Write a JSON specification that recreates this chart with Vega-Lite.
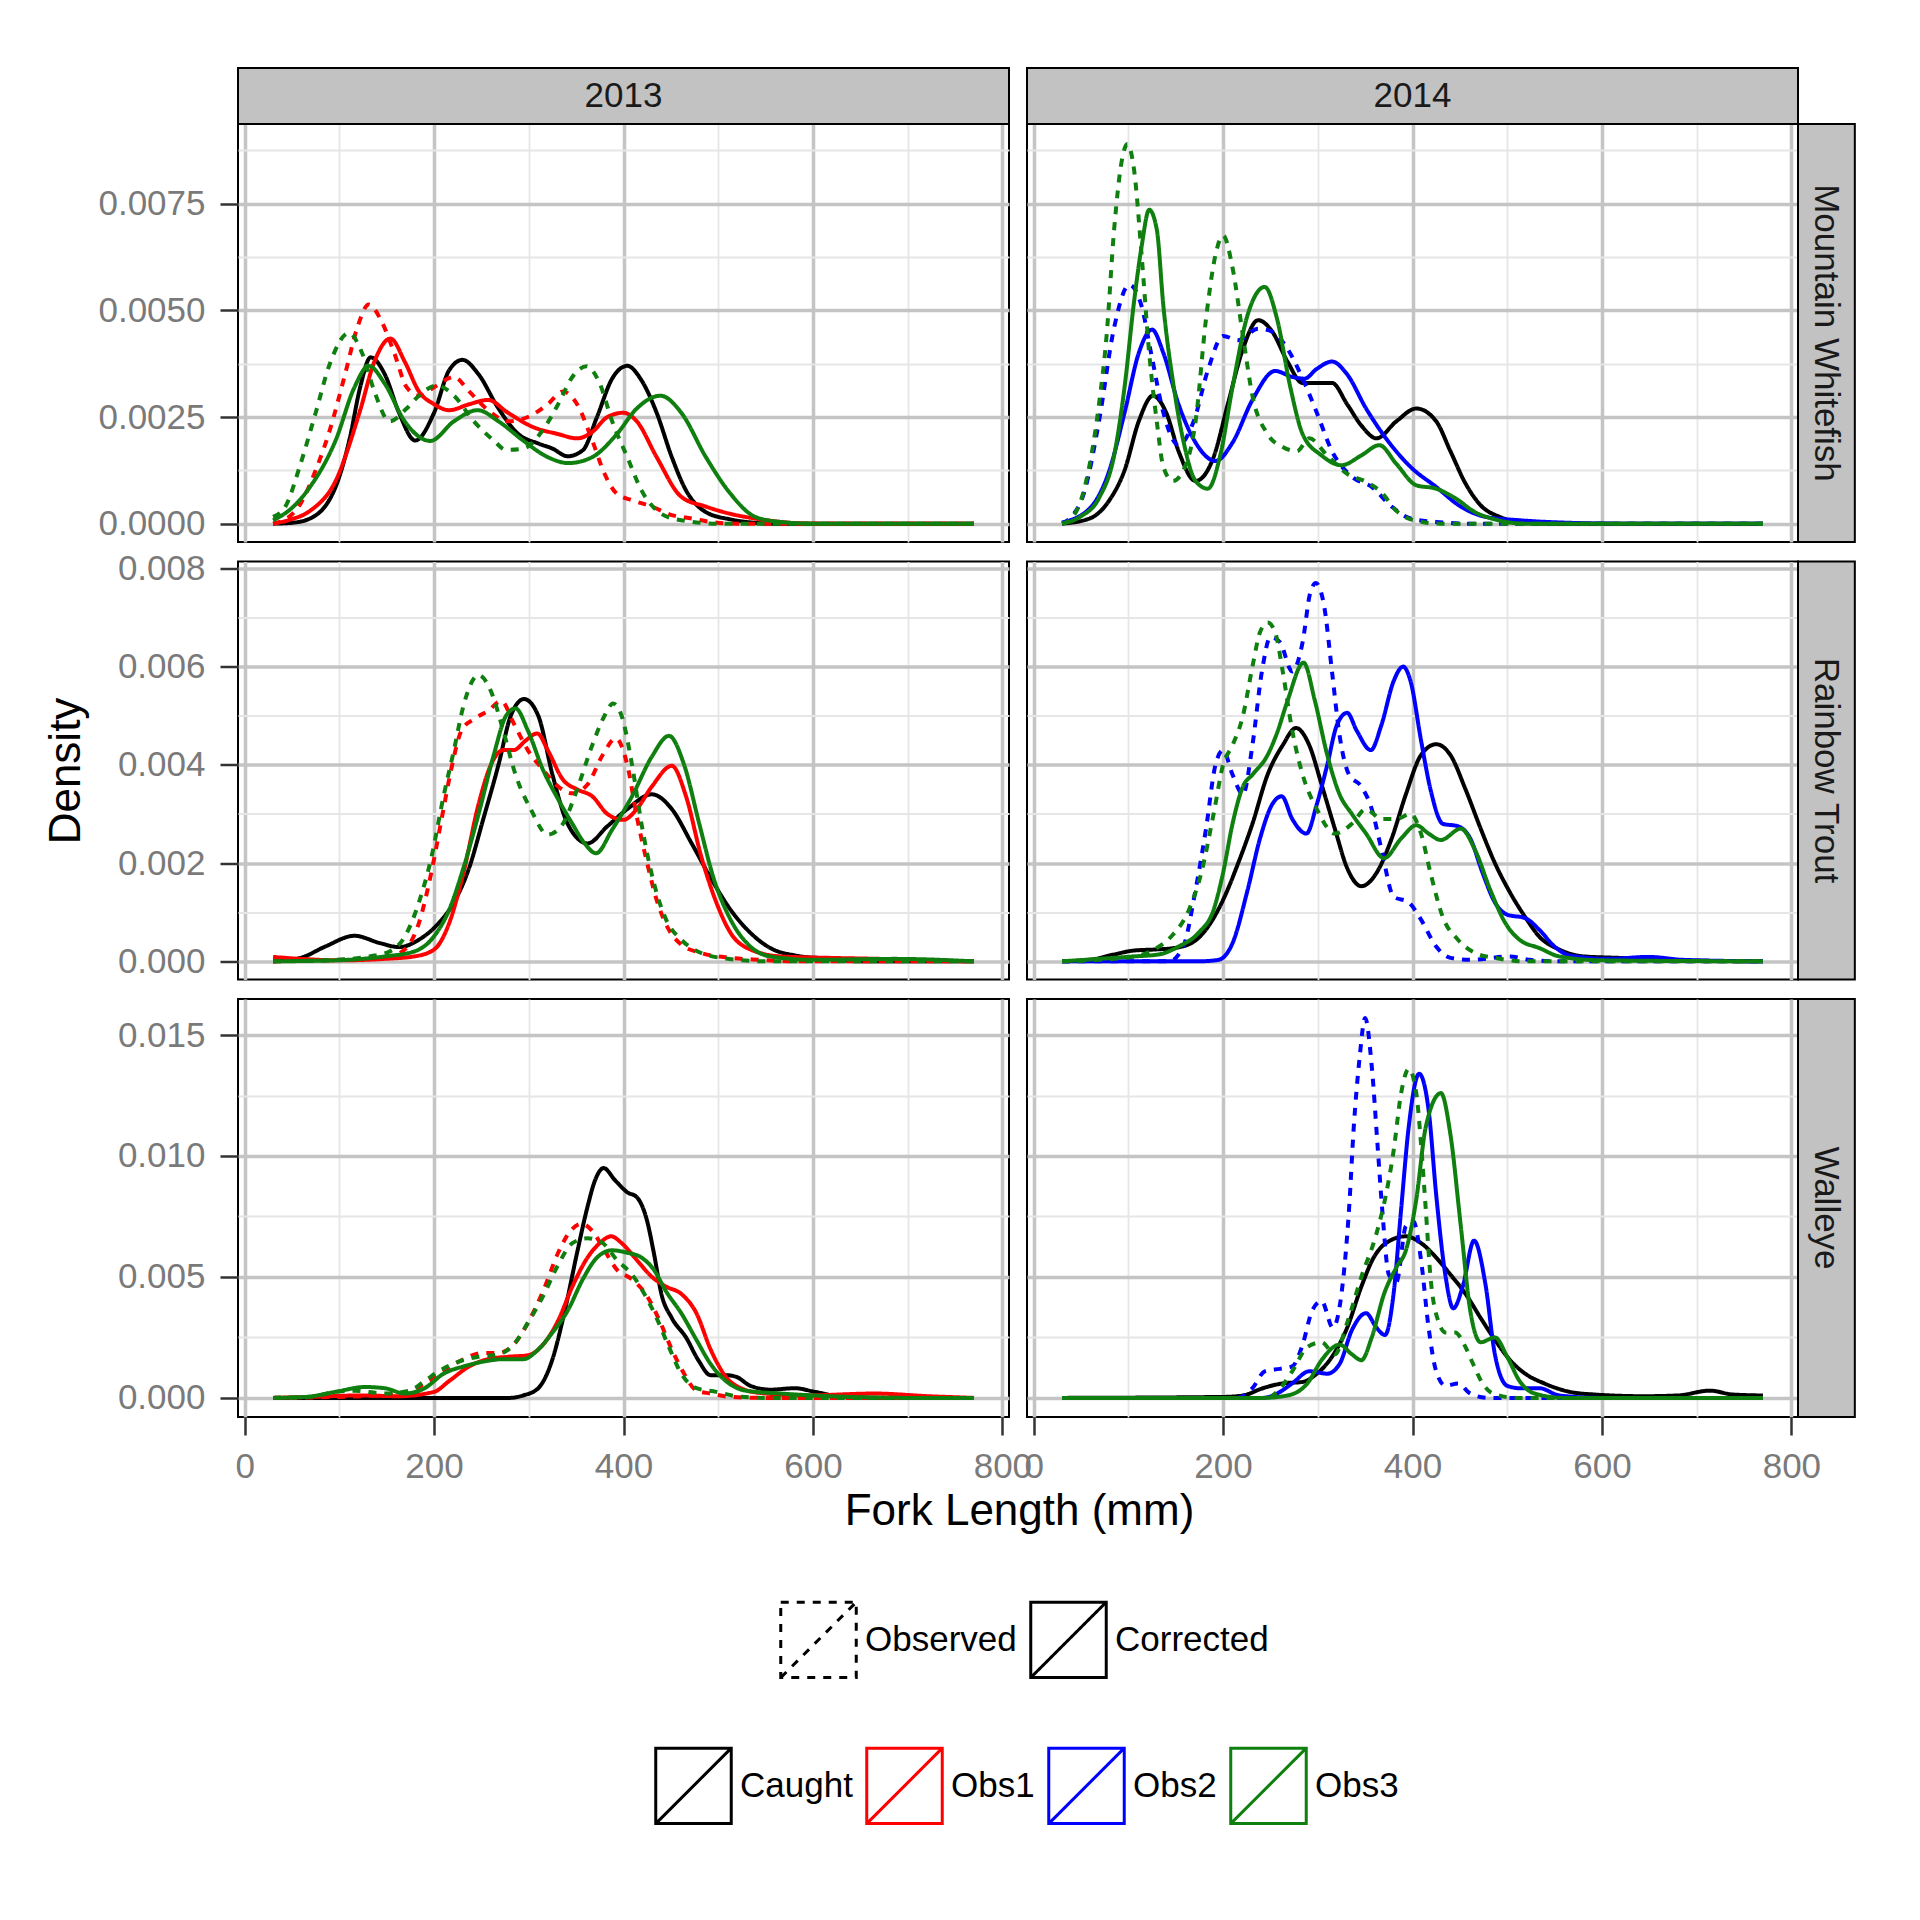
{
"$schema": "https://vega.github.io/schema/vega-lite/v6.json",
"background": "white",
"padding": {"left": 43, "top": 65, "right": 10, "bottom": 10},
"datasets": {"curves": [
{"sp":"MW","yr":2013,"g":"Caught","t":"Corrected","x":[30,50,69,96,111,122,133,148,163,180,200,216,230,247,268,289,310,325,341,357,372,388,404,419,435,451,466,487,513,539,560,770],"d":[0,0.00002,0.00012,0.00086,0.002,0.0032,0.0039,0.0035,0.0026,0.00195,0.0026,0.0036,0.00384,0.0035,0.0027,0.0021,0.00188,0.00176,0.00158,0.00172,0.0025,0.0034,0.0037,0.00336,0.0026,0.00156,0.00078,0.00027,0.0001,0.00002,0,0]},
{"sp":"MW","yr":2013,"g":"Obs1","t":"Observed","x":[30,43,59,75,90,106,119,131,144,158,171,184,200,221,237,257,278,299,320,336,351,367,380,393,409,430,451,472,492,520,770],"d":[0,0.0001,0.00047,0.00125,0.0022,0.0035,0.0046,0.00514,0.00477,0.004,0.0032,0.003,0.0032,0.00344,0.0031,0.00266,0.0024,0.0025,0.0028,0.0031,0.0028,0.00195,0.00117,0.0007,0.00055,0.0004,0.0002,0.00012,0.00004,0,0]},
{"sp":"MW","yr":2013,"g":"Obs1","t":"Corrected","x":[30,49,69,96,122,137,154,169,184,200,216,237,257,278,304,331,351,367,383,400,414,435,461,487,513,539,566,600,770],"d":[0,0.0001,0.0003,0.001,0.00266,0.0038,0.00434,0.0038,0.0031,0.0028,0.00266,0.0028,0.0029,0.0026,0.00227,0.0021,0.002,0.00215,0.0025,0.0026,0.0024,0.00156,0.00063,0.0004,0.00023,0.00012,0.00004,0,0]},
{"sp":"MW","yr":2013,"g":"Obs3","t":"Observed","x":[30,43,59,75,90,110,124,137,153,171,184,203,221,242,263,276,294,315,331,346,361,375,388,404,419,440,461,500,770],"d":[0.00016,0.0004,0.0014,0.0026,0.00375,0.00447,0.004,0.0031,0.0024,0.0027,0.003,0.00324,0.003,0.0024,0.00195,0.00173,0.00176,0.0022,0.0028,0.00344,0.00369,0.00328,0.0024,0.00156,0.00078,0.00023,0.00008,0,0]},
{"sp":"MW","yr":2013,"g":"Obs3","t":"Corrected","x":[30,49,69,96,116,131,148,169,196,221,246,268,294,320,342,367,393,414,439,461,487,513,539,566,600,770],"d":[0.00008,0.00035,0.00086,0.00195,0.0032,0.0037,0.00328,0.0024,0.00194,0.0024,0.00266,0.0024,0.00195,0.00156,0.00142,0.00156,0.0021,0.0027,0.003,0.0026,0.00156,0.0007,0.00016,0.00004,0,0]},
{"sp":"MW","yr":2014,"g":"Caught","t":"Corrected","x":[30,59,80,96,111,126,140,153,171,190,205,221,237,252,268,284,299,315,331,346,362,383,404,425,440,456,472,492,513,550,770],"d":[0,0.00012,0.00055,0.00125,0.0024,0.003,0.0026,0.0017,0.001,0.00156,0.0028,0.0041,0.00477,0.0045,0.0038,0.0033,0.0033,0.0033,0.0028,0.0023,0.002,0.0024,0.0027,0.0024,0.0017,0.00094,0.00043,0.00016,0.00004,0,0]},
{"sp":"MW","yr":2014,"g":"Obs2","t":"Observed","x":[30,38,54,69,85,101,114,124,137,153,169,184,200,216,237,252,268,284,299,315,336,357,378,398,425,460,770],"d":[0,0.00012,0.00078,0.0024,0.0046,0.0056,0.0051,0.004,0.0026,0.00184,0.0024,0.0036,0.0044,0.0043,0.00457,0.0045,0.0041,0.0034,0.0026,0.0017,0.0011,0.00086,0.0004,0.00012,0.00004,0,0]},
{"sp":"MW","yr":2014,"g":"Obs2","t":"Corrected","x":[30,59,80,96,111,125,137,153,171,192,210,231,255,273,286,299,315,331,351,372,398,425,451,477,513,566,620,770],"d":[0.00003,0.00035,0.00125,0.0026,0.004,0.00455,0.004,0.0028,0.0019,0.00147,0.0019,0.0029,0.00358,0.00344,0.0034,0.00363,0.0038,0.0035,0.0027,0.002,0.00133,0.00086,0.0004,0.00016,0.00008,0.00002,0,0]},
{"sp":"MW","yr":2014,"g":"Obs3","t":"Observed","x":[30,38,54,69,77,85,93,99,106,114,122,130,137,147,158,171,182,192,200,210,221,231,247,263,278,291,310,331,351,367,383,398,430,770],"d":[0,0.00008,0.00086,0.0028,0.0044,0.0069,0.0085,0.0089,0.0083,0.0063,0.004,0.0024,0.00133,0.001,0.00125,0.0024,0.0048,0.0063,0.00676,0.006,0.0044,0.003,0.0021,0.0018,0.0017,0.002,0.0016,0.00117,0.00098,0.00074,0.0003,0.0001,0,0]},
{"sp":"MW","yr":2014,"g":"Obs3","t":"Corrected","x":[30,49,69,85,96,106,114,122,130,137,148,158,171,184,197,210,226,244,257,271,284,304,325,346,365,383,404,425,445,466,487,520,770],"d":[0,0.00016,0.0006,0.0016,0.0032,0.0052,0.0065,0.00736,0.0069,0.0051,0.0032,0.00195,0.001,0.00082,0.0016,0.0032,0.0049,0.00555,0.0048,0.0032,0.0021,0.0016,0.00137,0.0016,0.00184,0.0014,0.0009,0.00082,0.0006,0.00027,0.0001,0,0]},
{"sp":"RT","yr":2013,"g":"Caught","t":"Corrected","x":[30,59,85,116,143,163,184,205,221,237,252,268,281,295,310,325,341,362,383,404,430,451,472,492,513,534,555,581,618,650,770],"d":[0,0.00007,0.0003,0.00052,0.00037,0.00029,0.00044,0.00078,0.0012,0.0019,0.0029,0.004,0.005,0.00534,0.005,0.0038,0.0028,0.0024,0.00275,0.0031,0.0034,0.0031,0.0024,0.0017,0.00105,0.00058,0.00027,0.00012,0.00005,0,0]},
{"sp":"RT","yr":2013,"g":"Obs1","t":"Observed","x":[30,148,169,184,197,208,218,229,242,257,271,284,299,315,331,346,362,378,392,404,414,425,435,448,461,482,513,545,580,770],"d":[0,0.00007,0.00024,0.00078,0.0018,0.0029,0.0039,0.0047,0.00493,0.0051,0.0053,0.00485,0.0043,0.0039,0.00356,0.00342,0.0036,0.0042,0.00454,0.004,0.00295,0.002,0.00125,0.00064,0.00034,0.00017,0.00007,0.00003,0,0]},
{"sp":"RT","yr":2013,"g":"Obs1","t":"Corrected","x":[30,59,100,148,179,200,216,231,247,260,273,284,297,309,320,336,351,367,383,400,414,430,451,466,482,498,513,534,566,618,670,720,770],"d":[0.00009,0.00005,0.00002,0.00005,0.0001,0.00024,0.00078,0.0018,0.0032,0.004,0.0043,0.0043,0.0045,0.00464,0.0043,0.0037,0.0035,0.00336,0.003,0.00288,0.0031,0.00356,0.00398,0.00336,0.00214,0.0012,0.00058,0.00024,0.0001,0.00007,0.00005,0.00002,0]},
{"sp":"RT","yr":2013,"g":"Obs3","t":"Observed","x":[30,96,132,153,169,184,197,210,221,231,247,260,273,286,302,320,336,351,367,380,389,398,409,419,432,445,461,482,503,550,770],"d":[0,0.00003,0.0001,0.0002,0.0005,0.0012,0.0021,0.00336,0.0043,0.0052,0.00583,0.0055,0.0047,0.0038,0.0031,0.00258,0.0028,0.0035,0.0044,0.005,0.00525,0.005,0.004,0.0028,0.0016,0.00085,0.00044,0.00017,0.00007,0,0]},
{"sp":"RT","yr":2013,"g":"Obs3","t":"Corrected","x":[30,96,148,179,200,216,231,247,263,276,286,299,315,331,346,359,371,388,409,430,448,464,480,495,513,534,555,600,686,770],"d":[0,0.00002,0.0001,0.0002,0.00051,0.00105,0.0019,0.003,0.0042,0.005,0.00515,0.0047,0.0039,0.0033,0.0028,0.0024,0.0022,0.00268,0.00336,0.00417,0.00459,0.004,0.0028,0.0017,0.00085,0.0003,0.0001,0.00003,0.00005,0]},
{"sp":"RT","yr":2014,"g":"Caught","t":"Corrected","x":[30,59,85,106,127,148,169,184,200,216,231,247,263,277,291,304,318,331,346,362,378,393,409,425,440,456,472,487,503,519,534,555,581,618,680,770],"d":[0,0.00003,0.00014,0.00022,0.00024,0.00027,0.0004,0.0007,0.00125,0.002,0.0028,0.0038,0.0044,0.00475,0.0044,0.0036,0.0027,0.0019,0.00153,0.0018,0.0025,0.0034,0.0042,0.00442,0.0042,0.0035,0.0027,0.002,0.0014,0.0009,0.0005,0.00024,0.0001,0.00007,0.00002,0]},
{"sp":"RT","yr":2014,"g":"Obs2","t":"Observed","x":[30,143,158,171,182,192,200,210,221,231,241,250,260,273,284,292,298,307,315,323,333,346,357,367,380,396,409,425,440,461,503,524,560,770],"d":[0,0,0.0003,0.00146,0.0027,0.004,0.0043,0.0038,0.0034,0.0044,0.0059,0.0066,0.0065,0.0059,0.0065,0.0075,0.0077,0.0072,0.0059,0.0046,0.0038,0.00356,0.0031,0.0023,0.00132,0.0012,0.00085,0.0003,0.00007,0.00003,0.0001,0.00003,0,0]},
{"sp":"RT","yr":2014,"g":"Obs2","t":"Corrected","x":[30,174,195,210,226,239,252,262,273,288,299,310,320,331,341,356,367,380,390,398,409,419,432,448,461,474,487,500,519,534,550,566,607,649,686,770],"d":[0,0,0.00003,0.00037,0.00146,0.0025,0.0032,0.00336,0.0029,0.0026,0.0032,0.004,0.0048,0.00506,0.0047,0.0043,0.0048,0.0057,0.006,0.0057,0.0045,0.0035,0.0028,0.00275,0.0025,0.0018,0.0012,0.00095,0.00088,0.00064,0.0003,0.00012,0.00005,0.00009,0.00003,0]},
{"sp":"RT","yr":2014,"g":"Obs3","t":"Observed","x":[30,69,106,127,145,164,177,190,200,210,221,231,239,247,255,263,273,284,299,318,336,351,367,383,398,409,419,432,448,466,487,520,770],"d":[0,0.00003,0.0001,0.00024,0.0005,0.00105,0.0018,0.003,0.004,0.0044,0.005,0.006,0.0067,0.0069,0.0067,0.0059,0.0047,0.0038,0.0031,0.0026,0.0028,0.0031,0.0029,0.0029,0.003,0.0026,0.0018,0.0009,0.00044,0.00017,0.00007,0,0]},
{"sp":"RT","yr":2014,"g":"Obs3","t":"Corrected","x":[30,69,106,132,153,174,190,200,210,221,231,247,257,268,285,297,310,323,336,351,370,388,404,417,430,451,466,482,498,513,534,555,600,770],"d":[0,0.00005,0.0001,0.00014,0.0003,0.00058,0.00105,0.0018,0.0028,0.00356,0.0038,0.0042,0.00465,0.0053,0.00608,0.0053,0.0042,0.0034,0.003,0.0026,0.0021,0.0025,0.00277,0.0026,0.00247,0.0027,0.00227,0.00146,0.00078,0.00044,0.00027,0.0001,0.00002,0]},
{"sp":"W","yr":2013,"g":"Caught","t":"Corrected","x":[30,280,294,310,325,338,351,362,370,379,391,404,414,425,432,440,451,466,479,492,508,519,534,555,581,602,628,680,770],"d":[0,0,0.0001,0.0004,0.0016,0.0036,0.006,0.0079,0.009,0.0095,0.009,0.0085,0.0083,0.0073,0.006,0.0043,0.0033,0.0025,0.00156,0.00094,0.00094,0.00087,0.0005,0.00034,0.0004,0.00025,0.00007,0,0]},
{"sp":"W","yr":2013,"g":"Obs1","t":"Observed","x":[30,96,169,190,210,231,252,268,284,299,315,331,344,356,367,380,393,409,425,438,451,464,477,492,513,550,770],"d":[0,0.00004,0.00018,0.0006,0.0011,0.0016,0.00186,0.00186,0.0022,0.0031,0.0044,0.006,0.0069,0.0072,0.0069,0.0061,0.0053,0.0049,0.0042,0.0032,0.002,0.001,0.0003,0.00018,0.00004,0,0]},
{"sp":"W","yr":2013,"g":"Obs1","t":"Corrected","x":[30,69,122,163,200,216,237,257,278,299,315,331,346,362,375,387,398,414,430,445,461,477,492,508,524,545,592,665,722,770],"d":[0,0.00004,0.0001,0.00007,0.00025,0.0007,0.0013,0.0016,0.0017,0.00176,0.0022,0.0032,0.0046,0.0058,0.0064,0.00668,0.0064,0.0057,0.005,0.0046,0.0043,0.0035,0.002,0.00087,0.0004,0.0002,0.0001,0.00018,0.00007,0]},
{"sp":"W","yr":2013,"g":"Obs3","t":"Observed","x":[30,69,96,116,148,174,190,205,226,247,268,284,299,315,331,346,362,378,393,409,422,435,448,461,477,498,519,550,770],"d":[0,0.00004,0.00025,0.0003,0.00018,0.0003,0.0007,0.0011,0.0015,0.0017,0.0018,0.0022,0.0031,0.0042,0.0055,0.0064,0.0066,0.0064,0.0057,0.0051,0.0043,0.0033,0.0021,0.001,0.0004,0.00025,0.00007,0,0]},
{"sp":"W","yr":2013,"g":"Obs3","t":"Corrected","x":[30,64,96,127,148,169,190,210,231,252,273,294,310,325,341,357,372,388,404,419,432,445,461,477,492,508,529,566,618,700,770],"d":[0,0.00004,0.00025,0.00045,0.0004,0.00018,0.0004,0.001,0.0013,0.0015,0.0016,0.0016,0.002,0.0027,0.0036,0.0049,0.0058,0.0061,0.006,0.0058,0.0053,0.0044,0.0035,0.0024,0.0014,0.0007,0.0003,0.00018,0.00007,0,0]},
{"sp":"W","yr":2014,"g":"Caught","t":"Corrected","x":[30,200,221,242,263,284,299,315,331,346,359,372,393,409,425,440,456,472,487,503,519,539,566,592,644,680,714,738,770],"d":[0,0.00004,0.0001,0.0004,0.0006,0.00066,0.001,0.0017,0.0029,0.0046,0.0058,0.0064,0.00668,0.0064,0.0058,0.0051,0.0043,0.0033,0.0024,0.00156,0.001,0.0006,0.00025,0.00014,0.00007,0.0001,0.0003,0.00014,0.0001]},
{"sp":"W","yr":2014,"g":"Obs2","t":"Observed","x":[30,215,231,244,260,273,284,294,304,316,325,333,338,344,350,357,363,368,375,383,393,401,409,417,425,435,448,461,480,770],"d":[0,0,0.0004,0.0011,0.0012,0.0013,0.0022,0.0036,0.004,0.0029,0.0043,0.0078,0.0112,0.014,0.0157,0.0137,0.0105,0.0078,0.0051,0.0048,0.0071,0.0073,0.0057,0.0029,0.0011,0.0005,0.0006,0.00018,0,0]},
{"sp":"W","yr":2014,"g":"Obs2","t":"Corrected","x":[30,242,257,273,291,310,323,336,351,362,371,380,388,396,407,417,425,435,443,453,465,477,487,500,513,534,555,600,770],"d":[0,0,0.00018,0.0006,0.0011,0.001,0.0014,0.0028,0.0035,0.0029,0.0026,0.0043,0.0078,0.0112,0.0134,0.0119,0.0084,0.005,0.0037,0.0046,0.0065,0.0047,0.0018,0.0005,0.0004,0.0004,0.0001,0,0]},
{"sp":"W","yr":2014,"g":"Obs3","t":"Observed","x":[30,247,257,273,289,304,318,331,346,362,372,380,388,396,404,409,414,419,427,435,445,456,464,474,485,510,770],"d":[0,0,0.00025,0.0011,0.0021,0.0023,0.0018,0.0031,0.005,0.0068,0.0084,0.0102,0.0126,0.0136,0.0126,0.0105,0.0078,0.005,0.0032,0.0027,0.0027,0.0021,0.0014,0.0006,0.00018,0,0]},
{"sp":"W","yr":2014,"g":"Obs3","t":"Corrected","x":[30,242,268,289,304,323,336,346,357,370,383,393,404,414,430,440,451,461,472,487,500,513,529,560,770],"d":[0,0,0.0001,0.0006,0.00156,0.0022,0.0018,0.00156,0.0025,0.0043,0.0054,0.0061,0.0082,0.0112,0.0126,0.0109,0.0071,0.0036,0.0023,0.0025,0.0017,0.0007,0.00018,0,0]}
]},
"concat": [
{"width": 771, "height": 418, "layer": [
 {"data": {"name": "curves"}, "transform": [{"filter": "datum.sp === 'MW' && datum.yr === 2013"}, {"flatten": ["x", "d"]}],
  "mark": {"type": "line", "strokeWidth": 4, "interpolate": "monotone"},
  "encoding": {
   "x": {"field": "x", "type": "quantitative", "scale": {"domain": [-7, 807], "nice": false, "zero": false}, "axis": {"values": [0,100,200,300,400,500,600,700,800], "labels": false, "ticks": false, "title": null, "grid": true, "gridColor": {"condition": {"test": "datum.value % 200 === 0", "value": "#c4c4c4"}, "value": "#e6e6e6"}, "gridWidth": {"condition": {"test": "datum.value % 200 === 0", "value": 3.5}, "value": 1.8}}},
   "y": {"field": "d", "type": "quantitative", "scale": {"domain": [-0.00043, 0.00937], "nice": false, "zero": false}, "axis": {"values": [0,0.00125,0.0025,0.00375,0.005,0.00625,0.0075,0.00875], "title": null, "grid": true, "gridColor": {"condition": {"test": "round(datum.value / 0.00125) % 2 === 0", "value": "#c4c4c4"}, "value": "#e6e6e6"}, "gridWidth": {"condition": {"test": "round(datum.value / 0.00125) % 2 === 0", "value": 3.5}, "value": 1.8}, "tickOpacity": {"condition": {"test": "round(datum.value / 0.00125) % 2 === 0", "value": 1}, "value": 0}, "labelExpr": "round(datum.value / 0.00125) % 2 === 0 ? format(datum.value, '.4f') : ''", "labelPadding": 15}},
   "color": {"field": "g", "type": "nominal", "scale": {"domain": ["Caught","Obs1","Obs2","Obs3"], "range": ["#000000","#ff0000","#0000ff","#0f7f0f"]}, "legend": {"title": null, "orient": "none", "legendX": 416, "legendY": 1622, "direction": "horizontal", "symbolType": "M-1,-1H1V1H-1ZM-1,1L1,-1", "symbolSize": 5700, "symbolStrokeWidth": 3, "labelFontSize": 35, "labelColor": "#000000", "labelOffset": 7, "columnPadding": 7}},
   "strokeDash": {"field": "t", "type": "nominal", "scale": {"domain": ["Observed","Corrected"], "range": [[8,8],[1,0]]}, "legend": {"title": null, "orient": "none", "legendX": 541, "legendY": 1476, "direction": "horizontal", "symbolType": "M-1,-1H1V1H-1ZM-1,1L1,-1", "symbolSize": 5700, "symbolStrokeWidth": 3, "symbolStrokeColor": "#000000", "labelFontSize": 35, "labelColor": "#000000", "labelOffset": 7, "columnPadding": 7}}
  }},
 {"data": {"values": [{"label": "2013"}]}, "mark": {"type": "rect", "fill": "#c2c2c2", "stroke": "#000000", "strokeWidth": 2},
  "encoding": {"x": {"datum": -7}, "x2": {"datum": 807}, "y": {"datum": 0.00937}, "y2": {"datum": 0.010683}}},
 {"data": {"values": [{"label": "2013"}]}, "mark": {"type": "text", "fontSize": 35, "color": "#1a1a1a", "align": "center", "baseline": "middle"},
  "encoding": {"x": {"datum": 400}, "y": {"datum": 0.010027}, "text": {"field": "label", "type": "nominal"}}}
]},
{"width": 771, "height": 418, "layer": [
 {"data": {"name": "curves"}, "transform": [{"filter": "datum.sp === 'MW' && datum.yr === 2014"}, {"flatten": ["x", "d"]}],
  "mark": {"type": "line", "strokeWidth": 4, "interpolate": "monotone"},
  "encoding": {
   "x": {"field": "x", "type": "quantitative", "scale": {"domain": [-7, 807], "nice": false, "zero": false}, "axis": {"values": [0,100,200,300,400,500,600,700,800], "labels": false, "ticks": false, "title": null, "grid": true, "gridColor": {"condition": {"test": "datum.value % 200 === 0", "value": "#c4c4c4"}, "value": "#e6e6e6"}, "gridWidth": {"condition": {"test": "datum.value % 200 === 0", "value": 3.5}, "value": 1.8}}},
   "y": {"field": "d", "type": "quantitative", "scale": {"domain": [-0.00043, 0.00937], "nice": false, "zero": false}, "axis": {"values": [0,0.00125,0.0025,0.00375,0.005,0.00625,0.0075,0.00875], "labels": false, "ticks": false, "title": null, "grid": true, "gridColor": {"condition": {"test": "round(datum.value / 0.00125) % 2 === 0", "value": "#c4c4c4"}, "value": "#e6e6e6"}, "gridWidth": {"condition": {"test": "round(datum.value / 0.00125) % 2 === 0", "value": 3.5}, "value": 1.8}}},
   "color": {"field": "g", "type": "nominal", "scale": {"domain": ["Caught","Obs1","Obs2","Obs3"], "range": ["#000000","#ff0000","#0000ff","#0f7f0f"]}, "legend": {"title": null, "orient": "none", "legendX": 416, "legendY": 1622, "direction": "horizontal", "symbolType": "M-1,-1H1V1H-1ZM-1,1L1,-1", "symbolSize": 5700, "symbolStrokeWidth": 3, "labelFontSize": 35, "labelColor": "#000000", "labelOffset": 7, "columnPadding": 7}},
   "strokeDash": {"field": "t", "type": "nominal", "scale": {"domain": ["Observed","Corrected"], "range": [[8,8],[1,0]]}, "legend": {"title": null, "orient": "none", "legendX": 541, "legendY": 1476, "direction": "horizontal", "symbolType": "M-1,-1H1V1H-1ZM-1,1L1,-1", "symbolSize": 5700, "symbolStrokeWidth": 3, "symbolStrokeColor": "#000000", "labelFontSize": 35, "labelColor": "#000000", "labelOffset": 7, "columnPadding": 7}}
  }},
 {"data": {"values": [{"label": "2014"}]}, "mark": {"type": "rect", "fill": "#c2c2c2", "stroke": "#000000", "strokeWidth": 2},
  "encoding": {"x": {"datum": -7}, "x2": {"datum": 807}, "y": {"datum": 0.00937}, "y2": {"datum": 0.010683}}},
 {"data": {"values": [{"label": "2014"}]}, "mark": {"type": "text", "fontSize": 35, "color": "#1a1a1a", "align": "center", "baseline": "middle"},
  "encoding": {"x": {"datum": 400}, "y": {"datum": 0.010027}, "text": {"field": "label", "type": "nominal"}}},
 {"data": {"values": [{"label": "Mountain Whitefish"}]}, "mark": {"type": "rect", "fill": "#c2c2c2", "stroke": "#000000", "strokeWidth": 2},
  "encoding": {"x": {"datum": 807}, "x2": {"datum": 867}, "y": {"datum": -0.00043}, "y2": {"datum": 0.00937}}},
 {"data": {"values": [{"label": "Mountain Whitefish"}]}, "mark": {"type": "text", "fontSize": 35, "color": "#1a1a1a", "align": "center", "baseline": "middle", "angle": 90},
  "encoding": {"x": {"datum": 837}, "y": {"datum": 0.00447}, "text": {"field": "label", "type": "nominal"}}}
]},
{"width": 771, "height": 418, "layer": [
 {"data": {"name": "curves"}, "transform": [{"filter": "datum.sp === 'RT' && datum.yr === 2013"}, {"flatten": ["x", "d"]}],
  "mark": {"type": "line", "strokeWidth": 4, "interpolate": "monotone"},
  "encoding": {
   "x": {"field": "x", "type": "quantitative", "scale": {"domain": [-7, 807], "nice": false, "zero": false}, "axis": {"values": [0,100,200,300,400,500,600,700,800], "labels": false, "ticks": false, "title": null, "grid": true, "gridColor": {"condition": {"test": "datum.value % 200 === 0", "value": "#c4c4c4"}, "value": "#e6e6e6"}, "gridWidth": {"condition": {"test": "datum.value % 200 === 0", "value": 3.5}, "value": 1.8}}},
   "y": {"field": "d", "type": "quantitative", "scale": {"domain": [-0.00037, 0.00814], "nice": false, "zero": false}, "axis": {"values": [0,0.001,0.002,0.003,0.004,0.005,0.006,0.007,0.008], "title": "Density", "titlePadding": 29, "grid": true, "gridColor": {"condition": {"test": "round(datum.value / 0.001) % 2 === 0", "value": "#c4c4c4"}, "value": "#e6e6e6"}, "gridWidth": {"condition": {"test": "round(datum.value / 0.001) % 2 === 0", "value": 3.5}, "value": 1.8}, "tickOpacity": {"condition": {"test": "round(datum.value / 0.001) % 2 === 0", "value": 1}, "value": 0}, "labelExpr": "round(datum.value / 0.001) % 2 === 0 ? format(datum.value, '.3f') : ''", "labelPadding": 15}},
   "color": {"field": "g", "type": "nominal", "scale": {"domain": ["Caught","Obs1","Obs2","Obs3"], "range": ["#000000","#ff0000","#0000ff","#0f7f0f"]}, "legend": {"title": null, "orient": "none", "legendX": 416, "legendY": 1622, "direction": "horizontal", "symbolType": "M-1,-1H1V1H-1ZM-1,1L1,-1", "symbolSize": 5700, "symbolStrokeWidth": 3, "labelFontSize": 35, "labelColor": "#000000", "labelOffset": 7, "columnPadding": 7}},
   "strokeDash": {"field": "t", "type": "nominal", "scale": {"domain": ["Observed","Corrected"], "range": [[8,8],[1,0]]}, "legend": {"title": null, "orient": "none", "legendX": 541, "legendY": 1476, "direction": "horizontal", "symbolType": "M-1,-1H1V1H-1ZM-1,1L1,-1", "symbolSize": 5700, "symbolStrokeWidth": 3, "symbolStrokeColor": "#000000", "labelFontSize": 35, "labelColor": "#000000", "labelOffset": 7, "columnPadding": 7}}
  }}
]},
{"width": 771, "height": 418, "layer": [
 {"data": {"name": "curves"}, "transform": [{"filter": "datum.sp === 'RT' && datum.yr === 2014"}, {"flatten": ["x", "d"]}],
  "mark": {"type": "line", "strokeWidth": 4, "interpolate": "monotone"},
  "encoding": {
   "x": {"field": "x", "type": "quantitative", "scale": {"domain": [-7, 807], "nice": false, "zero": false}, "axis": {"values": [0,100,200,300,400,500,600,700,800], "labels": false, "ticks": false, "title": null, "grid": true, "gridColor": {"condition": {"test": "datum.value % 200 === 0", "value": "#c4c4c4"}, "value": "#e6e6e6"}, "gridWidth": {"condition": {"test": "datum.value % 200 === 0", "value": 3.5}, "value": 1.8}}},
   "y": {"field": "d", "type": "quantitative", "scale": {"domain": [-0.00037, 0.00814], "nice": false, "zero": false}, "axis": {"values": [0,0.001,0.002,0.003,0.004,0.005,0.006,0.007,0.008], "labels": false, "ticks": false, "title": null, "grid": true, "gridColor": {"condition": {"test": "round(datum.value / 0.001) % 2 === 0", "value": "#c4c4c4"}, "value": "#e6e6e6"}, "gridWidth": {"condition": {"test": "round(datum.value / 0.001) % 2 === 0", "value": 3.5}, "value": 1.8}}},
   "color": {"field": "g", "type": "nominal", "scale": {"domain": ["Caught","Obs1","Obs2","Obs3"], "range": ["#000000","#ff0000","#0000ff","#0f7f0f"]}, "legend": {"title": null, "orient": "none", "legendX": 416, "legendY": 1622, "direction": "horizontal", "symbolType": "M-1,-1H1V1H-1ZM-1,1L1,-1", "symbolSize": 5700, "symbolStrokeWidth": 3, "labelFontSize": 35, "labelColor": "#000000", "labelOffset": 7, "columnPadding": 7}},
   "strokeDash": {"field": "t", "type": "nominal", "scale": {"domain": ["Observed","Corrected"], "range": [[8,8],[1,0]]}, "legend": {"title": null, "orient": "none", "legendX": 541, "legendY": 1476, "direction": "horizontal", "symbolType": "M-1,-1H1V1H-1ZM-1,1L1,-1", "symbolSize": 5700, "symbolStrokeWidth": 3, "symbolStrokeColor": "#000000", "labelFontSize": 35, "labelColor": "#000000", "labelOffset": 7, "columnPadding": 7}}
  }},
 {"data": {"values": [{"label": "Rainbow Trout"}]}, "mark": {"type": "rect", "fill": "#c2c2c2", "stroke": "#000000", "strokeWidth": 2},
  "encoding": {"x": {"datum": 807}, "x2": {"datum": 867}, "y": {"datum": -0.00037}, "y2": {"datum": 0.00814}}},
 {"data": {"values": [{"label": "Rainbow Trout"}]}, "mark": {"type": "text", "fontSize": 35, "color": "#1a1a1a", "align": "center", "baseline": "middle", "angle": 90},
  "encoding": {"x": {"datum": 837}, "y": {"datum": 0.003885}, "text": {"field": "label", "type": "nominal"}}}
]},
{"width": 771, "height": 418, "layer": [
 {"data": {"name": "curves"}, "transform": [{"filter": "datum.sp === 'W' && datum.yr === 2013"}, {"flatten": ["x", "d"]}],
  "mark": {"type": "line", "strokeWidth": 4, "interpolate": "monotone"},
  "encoding": {
   "x": {"field": "x", "type": "quantitative", "scale": {"domain": [-7, 807], "nice": false, "zero": false}, "axis": {"values": [0,100,200,300,400,500,600,700,800], "title": "Fork Length (mm)", "titleX": 781, "titlePadding": 5, "grid": true, "gridColor": {"condition": {"test": "datum.value % 200 === 0", "value": "#c4c4c4"}, "value": "#e6e6e6"}, "gridWidth": {"condition": {"test": "datum.value % 200 === 0", "value": 3.5}, "value": 1.8}, "tickOpacity": {"condition": {"test": "datum.value % 200 === 0", "value": 1}, "value": 0}, "labelExpr": "datum.value % 200 === 0 ? datum.label : ''", "labelPadding": 14}},
   "y": {"field": "d", "type": "quantitative", "scale": {"domain": [-0.00079, 0.01649], "nice": false, "zero": false}, "axis": {"values": [0,0.0025,0.005,0.0075,0.01,0.0125,0.015], "title": null, "grid": true, "gridColor": {"condition": {"test": "round(datum.value / 0.0025) % 2 === 0", "value": "#c4c4c4"}, "value": "#e6e6e6"}, "gridWidth": {"condition": {"test": "round(datum.value / 0.0025) % 2 === 0", "value": 3.5}, "value": 1.8}, "tickOpacity": {"condition": {"test": "round(datum.value / 0.0025) % 2 === 0", "value": 1}, "value": 0}, "labelExpr": "round(datum.value / 0.0025) % 2 === 0 ? format(datum.value, '.3f') : ''", "labelPadding": 15}},
   "color": {"field": "g", "type": "nominal", "scale": {"domain": ["Caught","Obs1","Obs2","Obs3"], "range": ["#000000","#ff0000","#0000ff","#0f7f0f"]}, "legend": {"title": null, "orient": "none", "legendX": 416, "legendY": 1622, "direction": "horizontal", "symbolType": "M-1,-1H1V1H-1ZM-1,1L1,-1", "symbolSize": 5700, "symbolStrokeWidth": 3, "labelFontSize": 35, "labelColor": "#000000", "labelOffset": 7, "columnPadding": 7}},
   "strokeDash": {"field": "t", "type": "nominal", "scale": {"domain": ["Observed","Corrected"], "range": [[8,8],[1,0]]}, "legend": {"title": null, "orient": "none", "legendX": 541, "legendY": 1476, "direction": "horizontal", "symbolType": "M-1,-1H1V1H-1ZM-1,1L1,-1", "symbolSize": 5700, "symbolStrokeWidth": 3, "symbolStrokeColor": "#000000", "labelFontSize": 35, "labelColor": "#000000", "labelOffset": 7, "columnPadding": 7}}
  }}
]},
{"width": 771, "height": 418, "layer": [
 {"data": {"name": "curves"}, "transform": [{"filter": "datum.sp === 'W' && datum.yr === 2014"}, {"flatten": ["x", "d"]}],
  "mark": {"type": "line", "strokeWidth": 4, "interpolate": "monotone"},
  "encoding": {
   "x": {"field": "x", "type": "quantitative", "scale": {"domain": [-7, 807], "nice": false, "zero": false}, "axis": {"values": [0,100,200,300,400,500,600,700,800], "title": null, "grid": true, "gridColor": {"condition": {"test": "datum.value % 200 === 0", "value": "#c4c4c4"}, "value": "#e6e6e6"}, "gridWidth": {"condition": {"test": "datum.value % 200 === 0", "value": 3.5}, "value": 1.8}, "tickOpacity": {"condition": {"test": "datum.value % 200 === 0", "value": 1}, "value": 0}, "labelExpr": "datum.value % 200 === 0 ? datum.label : ''", "labelPadding": 14}},
   "y": {"field": "d", "type": "quantitative", "scale": {"domain": [-0.00079, 0.01649], "nice": false, "zero": false}, "axis": {"values": [0,0.0025,0.005,0.0075,0.01,0.0125,0.015], "labels": false, "ticks": false, "title": null, "grid": true, "gridColor": {"condition": {"test": "round(datum.value / 0.0025) % 2 === 0", "value": "#c4c4c4"}, "value": "#e6e6e6"}, "gridWidth": {"condition": {"test": "round(datum.value / 0.0025) % 2 === 0", "value": 3.5}, "value": 1.8}}},
   "color": {"field": "g", "type": "nominal", "scale": {"domain": ["Caught","Obs1","Obs2","Obs3"], "range": ["#000000","#ff0000","#0000ff","#0f7f0f"]}, "legend": {"title": null, "orient": "none", "legendX": 416, "legendY": 1622, "direction": "horizontal", "symbolType": "M-1,-1H1V1H-1ZM-1,1L1,-1", "symbolSize": 5700, "symbolStrokeWidth": 3, "labelFontSize": 35, "labelColor": "#000000", "labelOffset": 7, "columnPadding": 7}},
   "strokeDash": {"field": "t", "type": "nominal", "scale": {"domain": ["Observed","Corrected"], "range": [[8,8],[1,0]]}, "legend": {"title": null, "orient": "none", "legendX": 541, "legendY": 1476, "direction": "horizontal", "symbolType": "M-1,-1H1V1H-1ZM-1,1L1,-1", "symbolSize": 5700, "symbolStrokeWidth": 3, "symbolStrokeColor": "#000000", "labelFontSize": 35, "labelColor": "#000000", "labelOffset": 7, "columnPadding": 7}}
  }},
 {"data": {"values": [{"label": "Walleye"}]}, "mark": {"type": "rect", "fill": "#c2c2c2", "stroke": "#000000", "strokeWidth": 2},
  "encoding": {"x": {"datum": 807}, "x2": {"datum": 867}, "y": {"datum": -0.00079}, "y2": {"datum": 0.01649}}},
 {"data": {"values": [{"label": "Walleye"}]}, "mark": {"type": "text", "fontSize": 35, "color": "#1a1a1a", "align": "center", "baseline": "middle", "angle": 90},
  "encoding": {"x": {"datum": 837}, "y": {"datum": 0.00785}, "text": {"field": "label", "type": "nominal"}}}
]}
],
"columns": 2,
"spacing": {"row": 19.5, "column": 18},
"bounds": "flush",
"resolve": {"scale": {"x": "independent", "y": "independent", "color": "shared", "strokeDash": "shared"}},
"config": {
 "font": "Liberation Sans",
 "view": {"stroke": "#000000", "strokeWidth": 2},
 "axis": {"labelFont": "Liberation Sans", "labelFontSize": 35, "labelColor": "#7a7a7a", "titleFont": "Liberation Sans", "titleFontSize": 44, "titleFontWeight": "normal", "titleColor": "#000000", "tickColor": "#333333", "tickWidth": 2.5, "tickSize": 18, "domain": false, "labelFlush": false, "labelOverlap": false, "labelBound": false},
 "legend": {"labelFont": "Liberation Sans", "labelFontSize": 35, "labelColor": "#000000"}
}
}
